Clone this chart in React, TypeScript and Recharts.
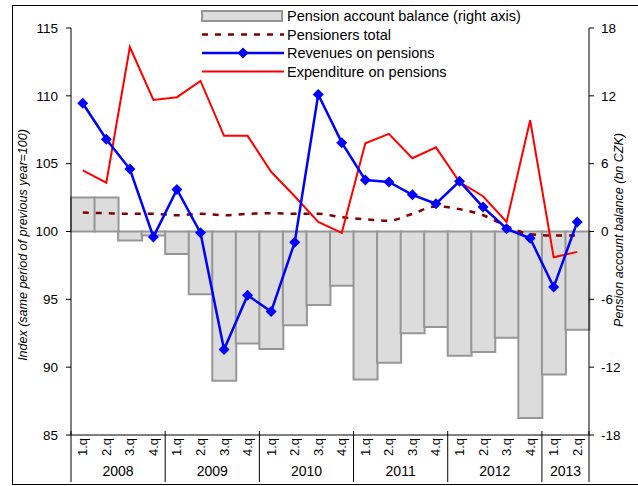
import React from 'react';
import { ComposedChart, Bar, Line, XAxis, YAxis } from 'recharts';

// quarterly data 2008 Q1 - 2013 Q2
const quarters = ['1.q', '2.q', '3.q', '4.q', '1.q', '2.q', '3.q', '4.q', '1.q', '2.q', '3.q', '4.q',
  '1.q', '2.q', '3.q', '4.q', '1.q', '2.q', '3.q', '4.q', '1.q', '2.q'];
const years = ['2008', '2008', '2008', '2008', '2009', '2009', '2009', '2009', '2010', '2010', '2010', '2010',
  '2011', '2011', '2011', '2011', '2012', '2012', '2012', '2012', '2013', '2013'];

// bn CZK, right axis
const balance = [3.0, 3.0, -0.8, -0.35, -2.0, -5.55, -13.2, -9.9, -10.4, -8.3, -6.5, -4.8,
  -13.1, -11.6, -9.0, -8.45, -11.0, -10.65, -9.4, -16.5, -12.65, -8.7];
// indices, left axis
const pensioners = [101.4, 101.35, 101.3, 101.3, 101.2, 101.3, 101.2, 101.3, 101.35, 101.3, 101.3, 101.05,
  100.9, 100.8, 101.3, 101.85, 101.65, 101.2, 100.4, 99.8, 99.7, 99.7];
const revenues = [109.45, 106.8, 104.6, 99.6, 103.1, 99.9, 91.3, 95.3, 94.1, 99.2, 110.1, 106.55,
  103.8, 103.65, 102.7, 102.05, 103.7, 101.8, 100.2, 99.5, 95.9, 100.7];
const expenditure = [104.5, 103.6, 113.6, 109.7, 109.9, 111.1, 107.05, 107.05, 104.4, 102.6, 100.7, 99.9,
  106.5, 107.2, 105.4, 106.2, 103.65, 102.6, 100.7, 108.2, 98.1, 98.5];

const leftTicks = [85, 90, 95, 100, 105, 110, 115];
const rightTicks = [-18, -12, -6, 0, 6, 12, 18];

const legendItems = [
  { name: 'Pension account balance (right axis)', kind: 'bar' },
  { name: 'Pensioners total', kind: 'dash' },
  { name: 'Revenues on pensions', kind: 'marker' },
  { name: 'Expenditure on pensions', kind: 'red' },
];

const data = quarters.map((q, i) => ({
  id: `${years[i]} ${q}`,
  quarter: q,
  year: years[i],
  balance: balance[i],
  pensioners: pensioners[i],
  revenues: revenues[i],
  expenditure: expenditure[i],
}));

const W = 638;
const H = 486;
const PLOT_LEFT = 71;
const PLOT_RIGHT = 589;
const PLOT_TOP = 28;
const PLOT_BOTTOM = 431;
const AXIS_BOTTOM = 482;
const BAND = (PLOT_RIGHT - PLOT_LEFT) / data.length;
const FONT = '"Liberation Sans", Arial, sans-serif';

const Diamond = (props: any) => {
  const { cx, cy } = props;
  if (cx == null || cy == null) return null;
  const s = 5.5;
  return <path d={`M${cx},${cy - s}L${cx + s},${cy}L${cx},${cy + s}L${cx - s},${cy}Z`} fill="#0000ff" />;
};

const QuarterTick = (props: any) => {
  const { x, payload } = props;
  const i = payload.index ?? props.index;
  const row = data[i];
  const ty = 447;
  const out: React.ReactNode[] = [
    <text key="q" x={x} y={ty} transform={`rotate(-90, ${x}, ${ty})`} textAnchor="middle" dominantBaseline="central"
      fontSize={13} fontFamily={FONT} fill="#000">{row.quarter}</text>,
  ];
  const first = i === 0 || data[i - 1].year !== row.year;
  if (first) {
    const n = data.filter(d => d.year === row.year).length;
    const left = x - BAND / 2;
    out.push(<line key="s" x1={left} x2={left} y1={PLOT_BOTTOM} y2={AXIS_BOTTOM} stroke="#000" strokeWidth={1} />);
    out.push(<text key="y" x={left + (n * BAND) / 2} y={476} textAnchor="middle" fontSize={14} fontFamily={FONT}
      fill="#000">{row.year}</text>);
  }
  if (i === data.length - 1) {
    const right = x + BAND / 2;
    out.push(<line key="e" x1={right} x2={right} y1={PLOT_BOTTOM} y2={AXIS_BOTTOM} stroke="#000" strokeWidth={1} />);
  }
  return <g>{out}</g>;
};

const LegendBox = () => (
  <g transform="translate(200, 6)">
    {legendItems.map((r, k) => {
      const cy = 10 + k * 18.5;
      return (
        <g key={r.name}>
          {r.kind === 'bar' && <rect x={2} y={cy - 5} width={80} height={10} fill="#dcdcdc" stroke="#969696" strokeWidth={2} />}
          {r.kind === 'dash' && <line x1={2} x2={84} y1={cy} y2={cy} stroke="#7f0000" strokeWidth={2.5} strokeDasharray="6 7" />}
          {r.kind === 'marker' && (
            <g>
              <line x1={2} x2={84} y1={cy} y2={cy} stroke="#0000ff" strokeWidth={2.5} />
              <Diamond cx={43} cy={cy} />
            </g>
          )}
          {r.kind === 'red' && <line x1={2} x2={84} y1={cy} y2={cy} stroke="#ff0000" strokeWidth={2} />}
          <text x={87} y={cy} dominantBaseline="central" fontSize={14.5} fontFamily={FONT} fill="#000">{r.name}</text>
        </g>
      );
    })}
  </g>
);

export default function App() {
  const tickStyle = { fontSize: 13.5, fontFamily: FONT, fill: '#000' };
  return (
    <div style={{ position: 'absolute', left: 0, top: 0, width: W, height: H, background: '#fff', overflow: 'hidden' }}>
      <div style={{ position: 'absolute', left: 12, top: 5, width: 660, height: 478, border: '1px solid #000' }} />
      <ComposedChart
        width={W}
        height={H}
        data={data}
        margin={{ top: PLOT_TOP, right: W - PLOT_RIGHT - 40, bottom: H - AXIS_BOTTOM - 4, left: PLOT_LEFT - 40 }}
        barCategoryGap={0}
        barGap={0}
        style={{ position: 'absolute', left: 0, top: 0 }}
      >
        <XAxis
          dataKey="id"
          interval={0}
          height={51}
          tickLine={false}
          axisLine={{ stroke: '#000', strokeWidth: 1 }}
          tick={<QuarterTick />}
        />
        <YAxis
          yAxisId="left"
          width={40}
          domain={[85, 115]}
          ticks={leftTicks}
          allowDataOverflow
          tickSize={5}
          tickMargin={8}
          axisLine={{ stroke: '#000' }}
          tickLine={{ stroke: '#000' }}
          tick={tickStyle}
        />
        <YAxis
          yAxisId="right"
          orientation="right"
          width={40}
          domain={[-18, 18]}
          ticks={rightTicks}
          allowDataOverflow
          tickSize={5}
          tickMargin={7}
          axisLine={{ stroke: '#000' }}
          tickLine={{ stroke: '#000' }}
          tick={tickStyle}
        />
        <Bar yAxisId="right" dataKey="balance" fill="#dcdcdc" stroke="#969696" strokeWidth={2} isAnimationActive={false} />
        <Line yAxisId="left" type="monotone" dataKey="pensioners" stroke="#7f0000" strokeWidth={2.5}
          strokeDasharray="6 7" dot={false} isAnimationActive={false} />
        <Line yAxisId="left" type="linear" dataKey="expenditure" stroke="#ff0000" strokeWidth={2}
          dot={false} isAnimationActive={false} />
        <Line yAxisId="left" type="linear" dataKey="revenues" stroke="#0000ff" strokeWidth={2.5}
          dot={<Diamond />} isAnimationActive={false} />
      </ComposedChart>
      <svg width={W} height={H} style={{ position: 'absolute', left: 0, top: 0, pointerEvents: 'none' }}>
        <LegendBox />
        <text transform="translate(27, 245) rotate(-90)" textAnchor="middle" fontSize={12.5} fontStyle="italic"
          fontFamily={FONT} fill="#000">Index (same period of previous year=100)</text>
        <text transform="translate(623, 230) rotate(-90)" textAnchor="middle" fontSize={12.5} fontStyle="italic"
          fontFamily={FONT} fill="#000">Pension account balance (bn CZK)</text>
      </svg>
    </div>
  );
}
